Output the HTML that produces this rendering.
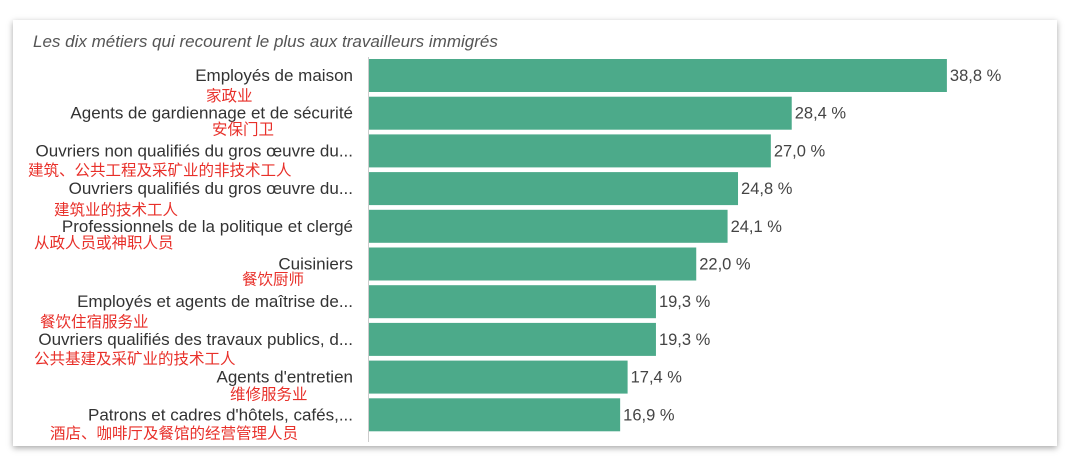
<!DOCTYPE html>
<html><head><meta charset="utf-8"><style>
body{margin:0;width:1080px;height:461px;background:#fff;overflow:hidden;font-family:"Liberation Sans","Noto Sans CJK SC",sans-serif}
#card{position:absolute;left:13px;top:20px;width:1044px;height:426px;background:#fff;box-shadow:0 2px 6px rgba(0,0,0,.35)}
</style></head><body>
<div id="card"></div>
<svg id="chart" width="1080" height="461" style="position:absolute;left:0;top:0">
<text x="33" y="47" font-size="17" font-style="italic" fill="#555">Les dix métiers qui recourent le plus aux travailleurs immigrés</text>
<line x1="368.5" y1="57" x2="368.5" y2="442" stroke="#ccc"/>
</svg>
<script>
const categories=["Employés de maison","Agents de gardiennage et de sécurité","Ouvriers non qualifiés du gros œuvre du...","Ouvriers qualifiés du gros œuvre du...","Professionnels de la politique et clergé","Cuisiniers","Employés et agents de maîtrise de...","Ouvriers qualifiés des travaux publics, d...","Agents d'entretien","Patrons et cadres d'hôtels, cafés,..."];
const values=[38.8,28.4,27.0,24.8,24.1,22.0,19.3,19.3,17.4,16.9];
const valueLabels=["38,8 %","28,4 %","27,0 %","24,8 %","24,1 %","22,0 %","19,3 %","19,3 %","17,4 %","16,9 %"];
const cnLabels=["家政业","安保门卫","建筑、公共工程及采矿业的非技术工人","建筑业的技术工人","从政人员或神职人员","餐饮厨师","餐饮住宿服务业","公共基建及采矿业的技术工人","维修服务业","酒店、咖啡厅及餐馆的经营管理人员"];
const svg=document.getElementById('chart');
const NS='http://www.w3.org/2000/svg';
const x=v=>368+v*14.92;
const y=i=>59+i*37.7;
const cnX=[206,212,28,54,34,242,40,34,230,50];
const cnDy=[26,22,25,27,22,21,26,25,23,24];
function mk(t,a){const e=document.createElementNS(NS,t);for(const k in a)e.setAttribute(k,a[k]);svg.appendChild(e);return e;}
values.forEach((v,i)=>{
 const r=mk('rect',{x:369,y:y(i),width:x(v)-369,height:33,fill:'#4caa8a'});
 
 
 const vl=mk('text',{x:x(v)+3,y:y(i)+22,'font-size':16.5,fill:'#444'});vl.textContent=valueLabels[i];
 
 
 const cl=mk('text',{x:353,y:y(i)+22,'font-size':17,fill:'#333','text-anchor':'end'});cl.textContent=categories[i];
 
 
 const cn=mk('text',{x:cnX[i],y:y(i)+22+cnDy[i]-6,'font-size':15.5,fill:'#e8302a'});cn.textContent=cnLabels[i];
 
 
});
</script>
</body></html>
